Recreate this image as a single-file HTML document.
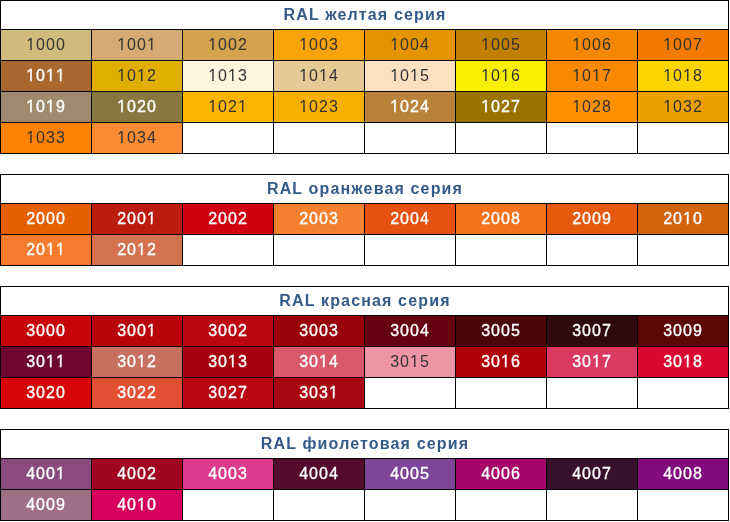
<!DOCTYPE html><html><head><meta charset="utf-8"><title>RAL</title><style>

*{margin:0;padding:0;box-sizing:border-box}
html,body{width:730px;height:522px;background:#fff;overflow:hidden}
body{position:relative;-webkit-font-smoothing:antialiased;font-family:"Liberation Sans",sans-serif;letter-spacing:1px}
.t{position:absolute;left:0;width:729px;background:#000;will-change:transform}
.h{position:absolute;left:1px;top:1px;width:727px;height:28px;background:#fff;color:#345A8A;font-weight:bold;font-size:16px;letter-spacing:1.15px;padding-left:1px;line-height:28px;text-align:center;}
.c{position:absolute;width:90px;height:30px;background:#fff;color:#333;font-size:16px;line-height:30px;text-align:center;}
.w{color:#fff;-webkit-text-stroke:0.35px #fff}
.o{display:inline-block;clip-path:polygon(0 0,100% 0,100% 18px,5.6px 18px,5.6px 100%,3.9px 100%,3.9px 18px,0 18px)}

</style></head><body>
<div class="t" style="top:0px;height:154px">
<div class="h">RAL желтая серия</div>
<div class="c" style="left:1px;top:30px;background:#CFBB7B"><span class="o">1</span>000</div>
<div class="c" style="left:92px;top:30px;background:#D6AB73"><span class="o">1</span>00<span class="o">1</span></div>
<div class="c" style="left:183px;top:30px;background:#D4A34E"><span class="o">1</span>002</div>
<div class="c" style="left:274px;top:30px;background:#F9A30A"><span class="o">1</span>003</div>
<div class="c" style="left:365px;top:30px;background:#E59400"><span class="o">1</span>004</div>
<div class="c" style="left:456px;top:30px;background:#C27F00"><span class="o">1</span>005</div>
<div class="c" style="left:547px;top:30px;background:#F38800"><span class="o">1</span>006</div>
<div class="c" style="left:638px;top:30px;background:#F37A00"><span class="o">1</span>007</div>
<div class="c w" style="left:1px;top:61px;background:#A8672E"><span class="o">1</span>0<span class="o">1</span><span class="o">1</span></div>
<div class="c" style="left:92px;top:61px;background:#E0AE00"><span class="o">1</span>0<span class="o">1</span>2</div>
<div class="c" style="left:183px;top:61px;background:#FFF4DE"><span class="o">1</span>0<span class="o">1</span>3</div>
<div class="c" style="left:274px;top:61px;background:#E6C994"><span class="o">1</span>0<span class="o">1</span>4</div>
<div class="c" style="left:365px;top:61px;background:#FDE0C0"><span class="o">1</span>0<span class="o">1</span>5</div>
<div class="c" style="left:456px;top:61px;background:#F8F000"><span class="o">1</span>0<span class="o">1</span>6</div>
<div class="c" style="left:547px;top:61px;background:#F98900"><span class="o">1</span>0<span class="o">1</span>7</div>
<div class="c" style="left:638px;top:61px;background:#FCD500"><span class="o">1</span>0<span class="o">1</span>8</div>
<div class="c w" style="left:1px;top:92px;background:#A08A6E"><span class="o">1</span>0<span class="o">1</span>9</div>
<div class="c w" style="left:92px;top:92px;background:#887840"><span class="o">1</span>020</div>
<div class="c" style="left:183px;top:92px;background:#FFB400"><span class="o">1</span>02<span class="o">1</span></div>
<div class="c" style="left:274px;top:92px;background:#FAB000"><span class="o">1</span>023</div>
<div class="c w" style="left:365px;top:92px;background:#B8823A"><span class="o">1</span>024</div>
<div class="c w" style="left:456px;top:92px;background:#987300"><span class="o">1</span>027</div>
<div class="c" style="left:547px;top:92px;background:#FF9000"><span class="o">1</span>028</div>
<div class="c" style="left:638px;top:92px;background:#EBA000"><span class="o">1</span>032</div>
<div class="c" style="left:1px;top:123px;background:#FF8200"><span class="o">1</span>033</div>
<div class="c" style="left:92px;top:123px;background:#F98B33"><span class="o">1</span>034</div>
<div class="c" style="left:183px;top:123px"></div>
<div class="c" style="left:274px;top:123px"></div>
<div class="c" style="left:365px;top:123px"></div>
<div class="c" style="left:456px;top:123px"></div>
<div class="c" style="left:547px;top:123px"></div>
<div class="c" style="left:638px;top:123px"></div>
</div>
<div class="t" style="top:174px;height:92px">
<div class="h">RAL оранжевая серия</div>
<div class="c w" style="left:1px;top:30px;background:#E66000">2000</div>
<div class="c w" style="left:92px;top:30px;background:#BC1C0E">200<span class="o">1</span></div>
<div class="c w" style="left:183px;top:30px;background:#D00010">2002</div>
<div class="c w" style="left:274px;top:30px;background:#F58030">2003</div>
<div class="c w" style="left:365px;top:30px;background:#E55210">2004</div>
<div class="c w" style="left:456px;top:30px;background:#F4731C">2008</div>
<div class="c w" style="left:547px;top:30px;background:#E55A0E">2009</div>
<div class="c w" style="left:638px;top:30px;background:#D0640F">20<span class="o">1</span>0</div>
<div class="c w" style="left:1px;top:61px;background:#F47C2C">20<span class="o">1</span><span class="o">1</span></div>
<div class="c w" style="left:92px;top:61px;background:#D4714E">20<span class="o">1</span>2</div>
<div class="c" style="left:183px;top:61px"></div>
<div class="c" style="left:274px;top:61px"></div>
<div class="c" style="left:365px;top:61px"></div>
<div class="c" style="left:456px;top:61px"></div>
<div class="c" style="left:547px;top:61px"></div>
<div class="c" style="left:638px;top:61px"></div>
</div>
<div class="t" style="top:286px;height:123px">
<div class="h">RAL красная серия</div>
<div class="c w" style="left:1px;top:30px;background:#C70508">3000</div>
<div class="c w" style="left:92px;top:30px;background:#B8050C">300<span class="o">1</span></div>
<div class="c w" style="left:183px;top:30px;background:#BB0612">3002</div>
<div class="c w" style="left:274px;top:30px;background:#9A0209">3003</div>
<div class="c w" style="left:365px;top:30px;background:#660010">3004</div>
<div class="c w" style="left:456px;top:30px;background:#4A0608">3005</div>
<div class="c w" style="left:547px;top:30px;background:#2E080C">3007</div>
<div class="c w" style="left:638px;top:30px;background:#5C0606">3009</div>
<div class="c w" style="left:1px;top:61px;background:#6E0630">30<span class="o">1</span><span class="o">1</span></div>
<div class="c w" style="left:92px;top:61px;background:#C8705F">30<span class="o">1</span>2</div>
<div class="c w" style="left:183px;top:61px;background:#A6000F">30<span class="o">1</span>3</div>
<div class="c w" style="left:274px;top:61px;background:#D9596B">30<span class="o">1</span>4</div>
<div class="c" style="left:365px;top:61px;background:#EE95A3">30<span class="o">1</span>5</div>
<div class="c w" style="left:456px;top:61px;background:#AF0008">30<span class="o">1</span>6</div>
<div class="c w" style="left:547px;top:61px;background:#DA3A60">30<span class="o">1</span>7</div>
<div class="c w" style="left:638px;top:61px;background:#DA0830">30<span class="o">1</span>8</div>
<div class="c w" style="left:1px;top:92px;background:#D60606">3020</div>
<div class="c w" style="left:92px;top:92px;background:#E24F33">3022</div>
<div class="c w" style="left:183px;top:92px;background:#B90512">3027</div>
<div class="c w" style="left:274px;top:92px;background:#A80812">303<span class="o">1</span></div>
<div class="c" style="left:365px;top:92px"></div>
<div class="c" style="left:456px;top:92px"></div>
<div class="c" style="left:547px;top:92px"></div>
<div class="c" style="left:638px;top:92px"></div>
</div>
<div class="t" style="top:429px;height:92px">
<div class="h">RAL фиолетовая серия</div>
<div class="c w" style="left:1px;top:30px;background:#8A4B7F">400<span class="o">1</span></div>
<div class="c w" style="left:92px;top:30px;background:#A0061F">4002</div>
<div class="c w" style="left:183px;top:30px;background:#DC3A8C">4003</div>
<div class="c w" style="left:274px;top:30px;background:#540A2C">4004</div>
<div class="c w" style="left:365px;top:30px;background:#7E4599">4005</div>
<div class="c w" style="left:456px;top:30px;background:#A60569">4006</div>
<div class="c w" style="left:547px;top:30px;background:#38102E">4007</div>
<div class="c w" style="left:638px;top:30px;background:#820A7E">4008</div>
<div class="c w" style="left:1px;top:61px;background:#9F6F88">4009</div>
<div class="c w" style="left:92px;top:61px;background:#D6005D">40<span class="o">1</span>0</div>
<div class="c" style="left:183px;top:61px"></div>
<div class="c" style="left:274px;top:61px"></div>
<div class="c" style="left:365px;top:61px"></div>
<div class="c" style="left:456px;top:61px"></div>
<div class="c" style="left:547px;top:61px"></div>
<div class="c" style="left:638px;top:61px"></div>
</div>
</body></html>
